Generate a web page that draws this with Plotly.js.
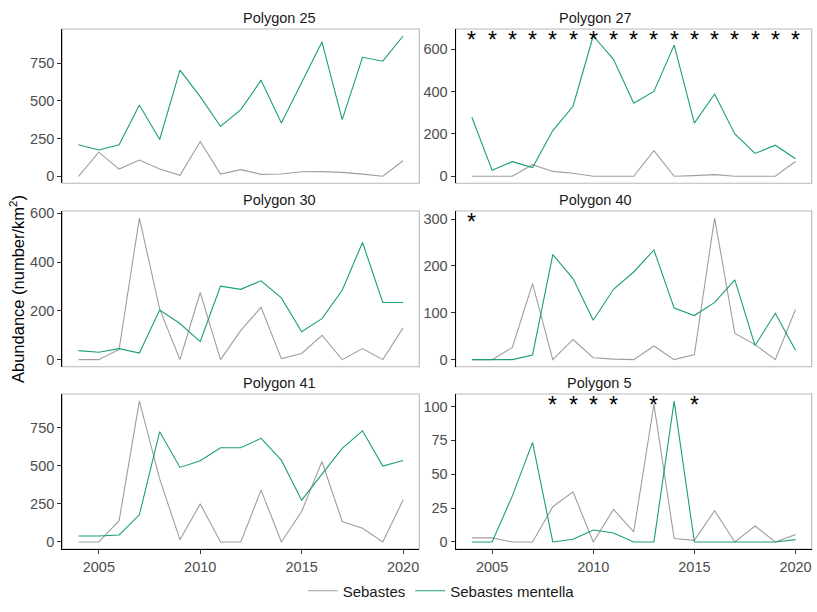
<!DOCTYPE html>
<html>
<head>
<meta charset="utf-8">
<script src="https://cdn.plot.ly/plotly-3.0.1.min.js"></script>
<style>html,body{margin:0;padding:0;background:#fff;}#chart{width:817px;height:612px;}</style>
</head>
<body>
<div id="chart"></div>
<script>
const years = [2004,2005,2006,2007,2008,2009,2010,2011,2012,2013,2014,2015,2016,2017,2018,2019,2020];
const seriesNames = ["Sebastes", "Sebastes mentella"];
const panelTitles = ["Polygon 25","Polygon 27","Polygon 30","Polygon 40","Polygon 41","Polygon 5"];
const xTicks = [2005, 2010, 2015, 2020];

const p25_sebastes = [0,160,48,108,48,7,231,15,44,13,15,30,31,26,14,0,103];
const p25_mentella = [209,174,209,473,244,704,528,330,442,636,354,622,891,376,789,763,930];
const p27_sebastes = [0,0,0,55,23,14,0,0,0,121,0,3,8,0,0,0,70];
const p27_mentella = [279,28,69,41,216,331,663,553,345,401,620,251,389,200,108,147,83];
const p30_sebastes = [0,0,42,580,208,0,275,0,120,214,4,25,100,0,45,0,130];
const p30_mentella = [37,30,45,27,203,148,74,301,288,323,253,114,168,284,480,234,234];
const p40_sebastes = [0,0,26,162,0,43,4,1,0,29,0,11,302,56,32,0,107];
const p40_mentella = [0,0,0,10,224,173,84,150,187,234,110,94,122,170,30,99,20];
const p41_sebastes = [0,0,140,925,414,15,250,0,0,340,0,200,528,134,90,0,276];
const p41_mentella = [39,39,46,178,724,489,533,618,618,680,537,274,445,614,730,498,535];
const p5_sebastes = [3,3,0,0,26,37,0,24,7.4,101.5,2.5,1.2,23,0,11.8,0,5.4];
const p5_mentella = [0,0,34,73.5,0,2,8.8,6.6,0,0,104,0,0,0,0,0,1.7];

const p25_stars = [];
const p27_stars = [2004,2005,2006,2007,2008,2009,2010,2011,2012,2013,2014,2015,2016,2017,2018,2019,2020];
const p30_stars = [];
const p40_stars = [2004];
const p41_stars = [];
const p5_stars = [2008,2009,2010,2011,2013,2015];

const yDticks = [250, 200, 200, 100, 250, 25];

const panels = [
  {s: p25_sebastes, m: p25_mentella, stars: p25_stars},
  {s: p27_sebastes, m: p27_mentella, stars: p27_stars},
  {s: p30_sebastes, m: p30_mentella, stars: p30_stars},
  {s: p40_sebastes, m: p40_mentella, stars: p40_stars},
  {s: p41_sebastes, m: p41_mentella, stars: p41_stars},
  {s: p5_sebastes, m: p5_mentella, stars: p5_stars}
];

const W = 817, H = 612;
const colDom = [[62.3/W, 419.3/W], [455.7/W, 811.7/W]];
const rowPx = [[29, 183.3], [211, 366.7], [394, 549]];
const rowDom = rowPx.map(r => [1 - r[1]/H, 1 - r[0]/H]);

const colGray = "#9e9e9e";
const colGreen = "#1b9e77";
const font = "Liberation Sans, Arial, sans-serif";

const traces = [];
const layout = {
  width: W, height: H,
  margin: {l:0, r:0, t:0, b:0},
  paper_bgcolor: "#fff", plot_bgcolor: "#fff",
  font: {family: font, color: "#4d4d4d"},
  showlegend: true,
  legend: {orientation: "h", x: 0.54, xanchor: "center", y: 1 - 591/H, yanchor: "middle",
           font: {size: 15, color: "#1a1a1a", family: font}, itemwidth: 30, tracegroupgap: 0},
  shapes: [], annotations: []
};

panels.forEach((p, i) => {
  const n = i + 1;
  const row = Math.floor(i / 2), col = i % 2;
  const xa = "x" + (n === 1 ? "" : n), ya = "y" + (n === 1 ? "" : n);
  const xk = "xaxis" + (n === 1 ? "" : n), yk = "yaxis" + (n === 1 ? "" : n);
  const mx = Math.max(...p.s, ...p.m);
  const bottom = row === 2;
  layout[xk] = {
    domain: colDom[col], anchor: ya, range: [2003.2, 2020.8],
    showgrid: false, zeroline: false,
    showline: bottom, linecolor: "#000", linewidth: 1.1,
    ticks: bottom ? "outside" : "", ticklen: 4, tickwidth: 1, tickcolor: "#333",
    tickvals: xTicks, showticklabels: bottom,
    tickfont: {size: 14.5, color: "#4d4d4d", family: font}
  };
  layout[yk] = {
    domain: rowDom[row], anchor: xa, range: [-0.05*mx, 1.05*mx],
    showgrid: false, zeroline: false,
    showline: true, linecolor: "#000", linewidth: 1.1,
    ticks: "outside", ticklen: 4, tickwidth: 1, tickcolor: "#333",
    tick0: 0, dtick: yDticks[i],
    tickfont: {size: 14.5, color: "#4d4d4d", family: font}
  };
  layout.shapes.push({type: "rect", xref: "paper", yref: "paper", layer: "below",
    x0: colDom[col][0], x1: colDom[col][1], y0: rowDom[row][0], y1: rowDom[row][1],
    line: {color: "#b8b8b8", width: 1.1}, fillcolor: "rgba(0,0,0,0)"});
  layout.annotations.push({xref: "paper", yref: "paper",
    x: (colDom[col][0] + colDom[col][1]) / 2, y: rowDom[row][1], yanchor: "bottom", yshift: 1,
    text: panelTitles[i], showarrow: false, font: {size: 14.5, color: "#1a1a1a", family: font}});
  traces.push({type: "scatter", mode: "lines", x: years, y: p.s, xaxis: xa, yaxis: ya,
    name: seriesNames[0], legendgroup: "s", showlegend: i === 0,
    line: {color: colGray, width: 1.1}});
  traces.push({type: "scatter", mode: "lines", x: years, y: p.m, xaxis: xa, yaxis: ya,
    name: seriesNames[1], legendgroup: "m", showlegend: i === 0,
    line: {color: colGreen, width: 1.1}});
  p.stars.forEach(yr => {
    layout.annotations.push({xref: xa, yref: ya, x: yr, y: mx, text: "*", showarrow: false,
      xanchor: "center", yanchor: "middle", yshift: -4,
      font: {size: 23, color: "#000", family: font}});
  });
});

layout.annotations.push({xref: "paper", yref: "paper", x: 17/W, y: 1 - 289/H,
  xanchor: "center", yanchor: "middle",
  text: "Abundance (number/km<sup>2</sup>)", textangle: -90, showarrow: false,
  font: {size: 16.5, color: "#000", family: font}});

Plotly.newPlot("chart", traces, layout, {displayModeBar: false, staticPlot: true});
</script>
</body>
</html>
